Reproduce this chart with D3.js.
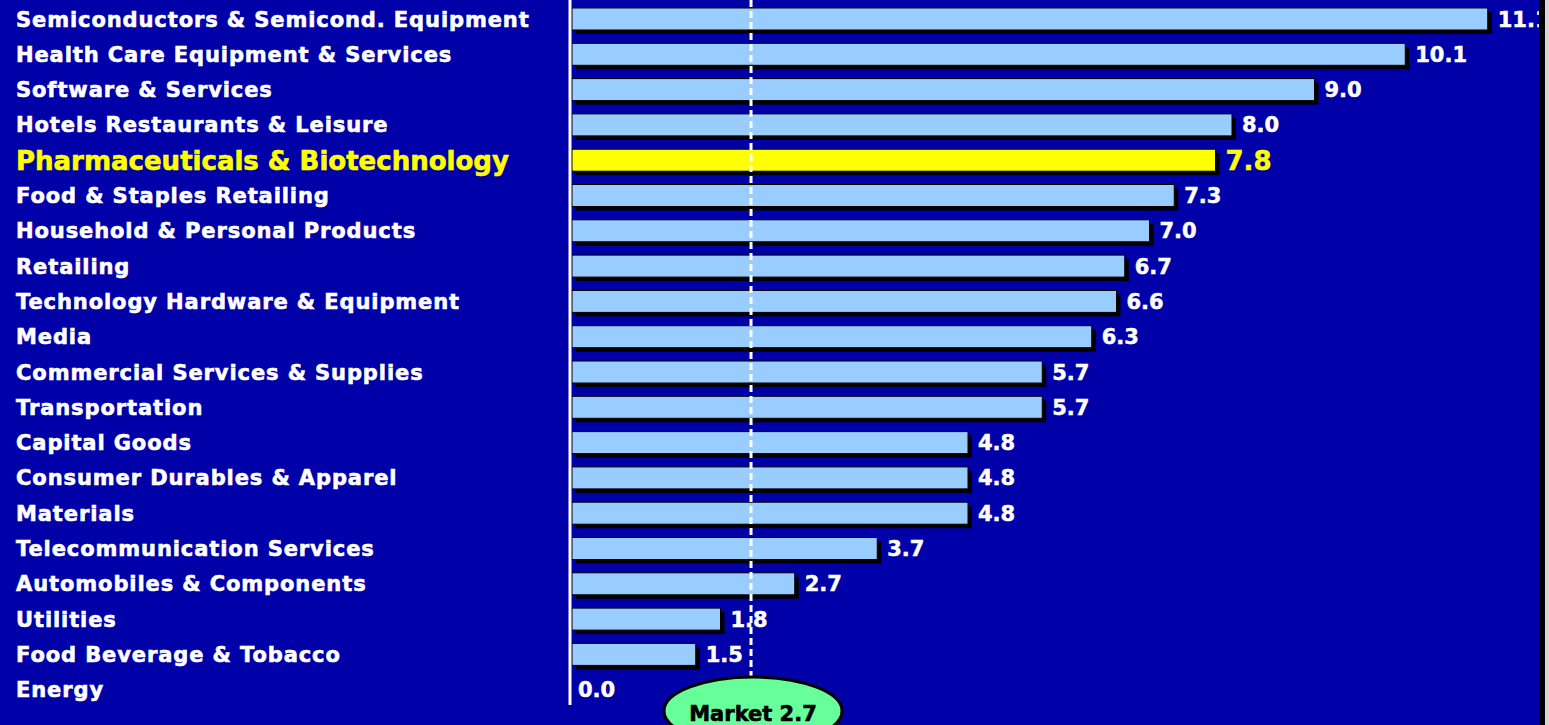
<!DOCTYPE html>
<html>
<head>
<meta charset="utf-8">
<script src="https://cdn.jsdelivr.net/npm/d3@7.9.0/dist/d3.min.js"></script>
<style>
  html, body { margin: 0; padding: 0; background: #d8d8d8; }
  svg { display: block; }
</style>
</head>
<body>
<div id="chart"></div>
<script>
// industry groups, top to bottom
const categories = [
  "Semiconductors & Semicond. Equipment",
  "Health Care Equipment & Services",
  "Software & Services",
  "Hotels Restaurants & Leisure",
  "Pharmaceuticals & Biotechnology",
  "Food & Staples Retailing",
  "Household & Personal Products",
  "Retailing",
  "Technology Hardware & Equipment",
  "Media",
  "Commercial Services & Supplies",
  "Transportation",
  "Capital Goods",
  "Consumer Durables & Apparel",
  "Materials",
  "Telecommunication Services",
  "Automobiles & Components",
  "Utilities",
  "Food Beverage & Tobacco",
  "Energy"
];
const values = [11.1, 10.1, 9.0, 8.0, 7.8, 7.3, 7.0, 6.7, 6.6, 6.3, 5.7, 5.7, 4.8, 4.8, 4.8, 3.7, 2.7, 1.8, 1.5, 0.0];
const highlight = "Pharmaceuticals & Biotechnology";
const marketLabel = "Market 2.7";
const marketLinePos = 2.17; // where the dashed line sits in the picture

const W = 1549, H = 725;
const clipRight = 1539;

const svg = d3.select("#chart").append("svg")
  .attr("width", W)
  .attr("height", H);

svg.append("defs").append("clipPath").attr("id", "plotClip")
  .append("rect").attr("x", 0).attr("y", 0).attr("width", clipRight).attr("height", H);

// border strip at the right
svg.append("rect").attr("x", clipRight).attr("y", 0).attr("width", 6).attr("height", H).attr("fill", "#000");

const g = svg.append("g").attr("clip-path", "url(#plotClip)");
g.append("rect").attr("width", clipRight).attr("height", H).attr("fill", "#0000a8");

const x = d3.scaleLinear().domain([0, 12]).range([572, 572 + 12 * 82.5]);
const y = d3.scaleBand().domain(categories).range([8, 700.7]).paddingInner(0.377).paddingOuter(0);

const data = categories.map((c, i) => ({ name: c, value: values[i] }));
const isHi = d => d.name === highlight;

// shadows
g.selectAll(".shadow")
  .data(data.filter(d => d.value > 0))
  .enter().append("rect")
  .attr("x", x(0) + 3)
  .attr("y", d => y(d.name) + 4)
  .attr("width", d => x(d.value) - x(0) + 1)
  .attr("height", y.bandwidth())
  .attr("fill", "#000");

g.selectAll(".bar")
  .data(data.filter(d => d.value > 0))
  .enter().append("rect")
  .attr("x", x(0))
  .attr("y", d => y(d.name))
  .attr("width", d => x(d.value) - x(0))
  .attr("height", y.bandwidth())
  .attr("fill", d => isHi(d) ? "#ffff00" : "#99ccff")
  .attr("stroke", "#000")
  .attr("stroke-width", 1);

// axis line
g.append("line")
  .attr("x1", x(0) - 2).attr("x2", x(0) - 2)
  .attr("y1", 0).attr("y2", 705)
  .attr("stroke", "#fff").attr("stroke-width", 3);

// market line
g.append("line")
  .attr("x1", x(marketLinePos)).attr("x2", x(marketLinePos))
  .attr("y1", 0).attr("y2", 680)
  .attr("stroke", "#fff").attr("stroke-width", 3)
  .attr("stroke-dasharray", "7,4");

// category labels
g.selectAll(".cat")
  .data(data)
  .enter().append("text")
  .attr("x", 16)
  .attr("y", d => y(d.name) + y.bandwidth() / 2)
  .attr("dy", "0.36em")
  .attr("fill", d => isHi(d) ? "#ffff00" : "#fff")
  .attr("stroke", d => isHi(d) ? "#ffff00" : "#fff")
  .attr("stroke-width", 0.6)
  .style("font-family", "'DejaVu Sans', sans-serif")
  .style("font-weight", "bold")
  .style("font-size", d => isHi(d) ? "26px" : "21px")
  .style("letter-spacing", d => isHi(d) ? "0px" : "0.9px")
  .text(d => d.name);

// value labels
g.selectAll(".val")
  .data(data)
  .enter().append("text")
  .attr("x", d => x(d.value) + (d.value > 0 ? 10 : 6))
  .attr("y", d => y(d.name) + y.bandwidth() / 2)
  .attr("dy", "0.36em")
  .attr("fill", d => isHi(d) ? "#ffff00" : "#fff")
  .attr("stroke", d => isHi(d) ? "#ffff00" : "#fff")
  .attr("stroke-width", 0.5)
  .style("font-family", "'DejaVu Sans', sans-serif")
  .style("font-weight", "bold")
  .style("font-size", d => isHi(d) ? "26px" : "21px")
  .text(d => d.value.toFixed(1));

// market bubble
const mx = x(marketLinePos) + 2;
g.append("ellipse")
  .attr("cx", mx).attr("cy", 711)
  .attr("rx", 89).attr("ry", 34)
  .attr("fill", "#66ff99")
  .attr("stroke", "#000").attr("stroke-width", 3);
g.append("text")
  .attr("x", mx).attr("y", 713)
  .attr("dy", "0.36em")
  .attr("text-anchor", "middle")
  .attr("fill", "#000")
  .attr("stroke", "#000")
  .attr("stroke-width", 0.6)
  .style("font-family", "'DejaVu Sans', sans-serif")
  .style("font-weight", "bold")
  .style("font-size", "21px")
  .text(marketLabel);
</script>
</body>
</html>
